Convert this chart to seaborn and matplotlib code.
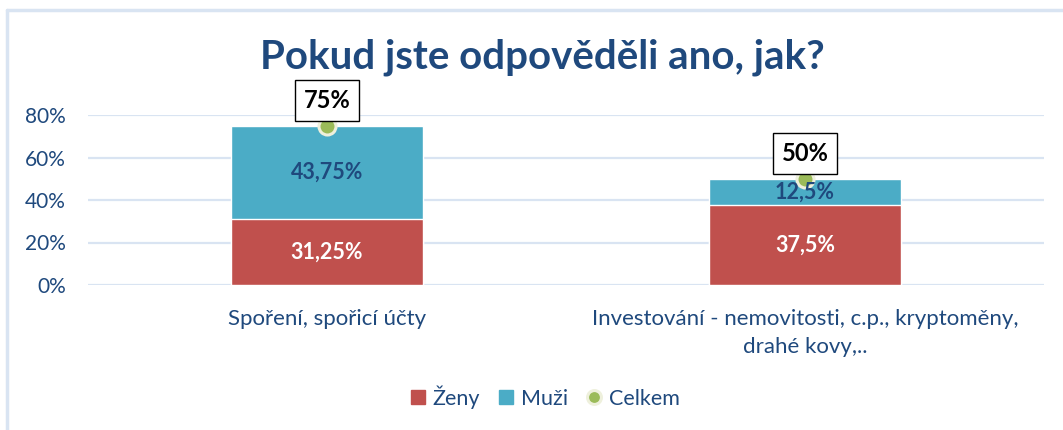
import matplotlib
matplotlib.use("Agg")
import matplotlib.pyplot as plt
import seaborn as sns
import pandas as pd
from matplotlib.lines import Line2D
from matplotlib.patches import Patch
from matplotlib.ticker import PercentFormatter

categories = ["Spoření, spořicí účty",
              "Investování - nemovitosti, c.p., kryptoměny,\ndrahé kovy,.."]
zeny = [31.25, 37.5]
muzi = [43.75, 12.5]
celkem = [75, 50]
zeny_labels = ["31,25%", "37,5%"]
muzi_labels = ["43,75%", "12,5%"]
celkem_labels = ["75%", "50%"]
title = "Pokud jste odpověděli ano, jak?"

RED = "#C0504D"
TEAL = "#4BACC6"
GREEN = "#9BBB59"
DARK = "#1F497D"
GRID = "#D9E4F2"

sns.set_theme(style="white")
plt.rcParams['font.family'] = ['Lato', 'DejaVu Sans']

df = pd.DataFrame({"cat": categories, "zeny": zeny, "muzi": muzi,
                   "total": [z + m for z, m in zip(zeny, muzi)], "celkem": celkem})

fig = plt.figure(figsize=(10.63, 4.30), dpi=100)
ax = fig.add_axes([88/1063, 1 - 285/430, (1044-88)/1063, 170/430])

sns.barplot(data=df, x="cat", y="total", color=TEAL, width=0.4, ax=ax,
            saturation=1, zorder=2)
sns.barplot(data=df, x="cat", y="zeny", color=RED, width=0.4, ax=ax,
            saturation=1, zorder=3)
sns.scatterplot(data=df, x="cat", y="celkem", color=GREEN, s=150, ax=ax,
                edgecolor="#EEF0DC", linewidth=2.2, zorder=5, legend=False)

ax.set_ylim(0, 80)
ax.set_xlim(-0.5, 1.5)
ax.set_yticks([0, 20, 40, 60, 80])
ax.yaxis.set_major_formatter(PercentFormatter(decimals=0))
ax.grid(axis="y", color=GRID, linewidth=1.6, zorder=0)
ax.set_axisbelow(True)
for s in ax.spines.values():
    s.set_visible(False)
ax.set_xlabel("")
ax.set_ylabel("")
ax.tick_params(axis="y", labelsize=15, labelcolor=DARK, length=0, pad=16)
ax.tick_params(axis="x", labelsize=16, labelcolor=DARK, length=0, pad=17)
for lbl in ax.get_xticklabels():
    lbl.set_linespacing(1.55)

for i in range(len(categories)):
    ax.text(i, zeny[i] / 2, zeny_labels[i], ha="center", va="center",
            color="white", fontsize=15.5, fontweight="bold", zorder=6)
    ax.text(i, zeny[i] + muzi[i] / 2, muzi_labels[i], ha="center", va="center",
            color=DARK, fontsize=15.5, fontweight="bold", zorder=6)
    ax.annotate(celkem_labels[i], xy=(i, celkem[i]), xytext=(0, 18),
                textcoords="offset points", ha="center", va="center",
                fontsize=17, fontweight="bold", color="black", zorder=7,
                bbox=dict(boxstyle="square,pad=0.38", fc="white", ec="black", lw=1))

fig.suptitle(title, x=0.51, y=0.91, fontsize=29, fontweight="bold", color=DARK)

handles = [Patch(color=RED, label="Ženy"), Patch(color=TEAL, label="Muži"),
           Line2D([], [], marker="o", linestyle="", markersize=10,
                  markerfacecolor=GREEN, markeredgecolor="#EEF0DC",
                  markeredgewidth=2.2, label="Celkem")]
fig.legend(handles=handles, loc="center", bbox_to_anchor=(545/1063, 1 - 397/430),
           ncol=3, frameon=False, fontsize=15.5, labelcolor=DARK,
           handlelength=0.65, handleheight=0.65, handletextpad=0.35,
           columnspacing=0.9, borderpad=0.2)

fig.add_artist(Line2D([7/1063, 7/1063], [0, 1 - 10/430], color=GRID, lw=2.5,
                      transform=fig.transFigure))
fig.add_artist(Line2D([7/1063, 1], [1 - 10/430, 1 - 10/430], color=GRID, lw=2.5,
                      transform=fig.transFigure))

fig.savefig("out.png", dpi=100)
